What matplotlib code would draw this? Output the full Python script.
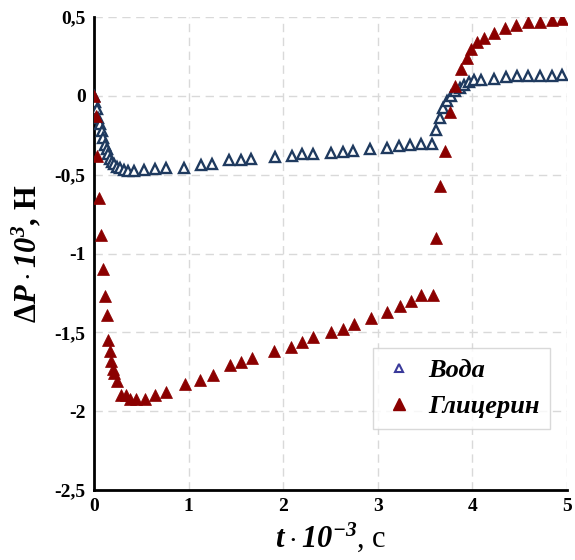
import matplotlib
matplotlib.use("Agg")
import matplotlib.pyplot as plt
from matplotlib.ticker import FuncFormatter, MultipleLocator
from matplotlib.lines import Line2D

plt.rcParams['font.family'] = ['Liberation Serif', 'DejaVu Serif']
plt.rcParams['mathtext.fontset'] = 'custom'
plt.rcParams['mathtext.rm'] = 'Liberation Serif:bold'
plt.rcParams['mathtext.it'] = 'Liberation Serif:bold:italic'
plt.rcParams['mathtext.bf'] = 'Liberation Serif:bold'
plt.rcParams['mathtext.sf'] = 'Liberation Serif:bold:italic'

# Water (Вода)
water_t = [0.0, 0.01, 0.03, 0.045, 0.063, 0.08, 0.10, 0.116, 0.134, 0.15, 0.17, 0.187,
           0.214, 0.24, 0.275, 0.32, 0.36, 0.425, 0.53, 0.64, 0.76, 0.95, 1.13, 1.25,
           1.43, 1.55, 1.66, 1.91, 2.09, 2.20, 2.32, 2.51, 2.63, 2.74, 2.92, 3.10,
           3.22, 3.34, 3.46, 3.57, 3.62, 3.66, 3.69, 3.73, 3.77, 3.82, 3.87, 3.91,
           3.96, 4.02, 4.09, 4.23, 4.36, 4.47, 4.59, 4.71, 4.84, 4.95]
water_p = [0.0, -0.04, -0.085, -0.14, -0.18, -0.22, -0.265, -0.31, -0.34, -0.37, -0.40, -0.42,
           -0.43, -0.45, -0.46, -0.47, -0.476, -0.476, -0.47, -0.465, -0.46, -0.455, -0.44, -0.435,
           -0.41, -0.405, -0.40, -0.39, -0.38, -0.37, -0.366, -0.36, -0.353, -0.35, -0.34, -0.33,
           -0.32, -0.31, -0.305, -0.305, -0.215, -0.14, -0.08, -0.03, 0.0, 0.03, 0.05, 0.07,
           0.085, 0.10, 0.10, 0.11, 0.117, 0.123, 0.125, 0.126, 0.128, 0.133]

# Glycerin (Глицерин)
gly_t = [0.0, 0.02, 0.03, 0.05, 0.07, 0.10, 0.12, 0.14, 0.15, 0.17, 0.18, 0.20, 0.21,
         0.24, 0.29, 0.34, 0.38, 0.44, 0.54, 0.65, 0.76, 0.96, 1.12, 1.26, 1.44, 1.55,
         1.67, 1.90, 2.08, 2.20, 2.32, 2.51, 2.63, 2.75, 2.93, 3.10, 3.23, 3.35, 3.46,
         3.58, 3.62, 3.66, 3.71, 3.76, 3.82, 3.88, 3.94, 3.99, 4.05, 4.12, 4.23, 4.35,
         4.46, 4.59, 4.72, 4.84, 4.95]
gly_p = [0.0, -0.13, -0.38, -0.65, -0.88, -1.10, -1.27, -1.39, -1.55, -1.62, -1.68, -1.73, -1.76,
         -1.81, -1.90, -1.90, -1.92, -1.92, -1.92, -1.90, -1.88, -1.83, -1.80, -1.77, -1.71, -1.69,
         -1.66, -1.62, -1.59, -1.56, -1.53, -1.50, -1.48, -1.45, -1.41, -1.37, -1.33, -1.30, -1.26,
         -1.26, -0.90, -0.57, -0.35, -0.10, 0.06, 0.17, 0.24, 0.30, 0.34, 0.37, 0.40, 0.43,
         0.45, 0.47, 0.47, 0.48, 0.49]

labels = ['Вода', 'Глицерин']
blue = '#1f3a5f'
red = '#8b0000'

fig = plt.figure(figsize=(5.75, 5.6), dpi=100)
ax = fig.add_axes([0.1635, 0.125, 0.8225, 0.8446])

ax.plot(water_t, water_p, linestyle='none', marker='^', ms=6.5, mfc='white',
        mec=blue, mew=1.7, zorder=3)
ax.plot(gly_t, gly_p, linestyle='none', marker='^', ms=8, mfc=red, mec=red,
        mew=0.5, zorder=4)

ax.set_xlim(0, 5)
ax.set_ylim(-2.5, 0.5)
ax.xaxis.set_major_locator(MultipleLocator(1))
ax.yaxis.set_major_locator(MultipleLocator(0.5))

def fmt(v, pos):
    return ('%g' % v).replace('.', ',')
ax.yaxis.set_major_formatter(FuncFormatter(fmt))
ax.xaxis.set_major_formatter(FuncFormatter(fmt))

ax.grid(True, color='#d9d9d9', linestyle=(0, (6, 4)), linewidth=1.0)
ax.set_axisbelow(True)
for s in ['top', 'right']:
    ax.spines[s].set_visible(False)
for s in ['left', 'bottom']:
    ax.spines[s].set_linewidth(2.0)
    ax.spines[s].set_color('black')
ax.tick_params(length=0, pad=6, labelsize=14)
for lab in ax.get_xticklabels() + ax.get_yticklabels():
    lab.set_fontweight('bold')

ax.set_ylabel(r'$\Delta\mathit{P}\cdot\mathsf{10}^{\mathsf{3}}$, Н', fontsize=22,
              fontweight='bold', labelpad=8)
ax.set_xlabel(r'$\mathit{t}\cdot\mathsf{10}^{\mathsf{-3}}$, с', fontsize=22,
              fontweight='normal', labelpad=4)

handles = [
    Line2D([], [], linestyle='none', marker='^', ms=6, mfc='white', mec='#3a3a9a', mew=1.5),
    Line2D([], [], linestyle='none', marker='^', ms=9, mfc=red, mec=red),
]
leg = ax.legend(handles, labels, loc='lower left', bbox_to_anchor=(0.59, 0.129, 0.374, 0.165),
                mode='expand', borderaxespad=0, frameon=True, fancybox=False, edgecolor='#d0d0d0',
                prop={'family': 'Liberation Serif', 'weight': 'bold', 'style': 'italic', 'size': 19},
                handletextpad=0.5, labelspacing=0.5, borderpad=0.4, handlelength=1.2)
leg.get_frame().set_linewidth(1.0)

fig.savefig('out.png', dpi=100)
